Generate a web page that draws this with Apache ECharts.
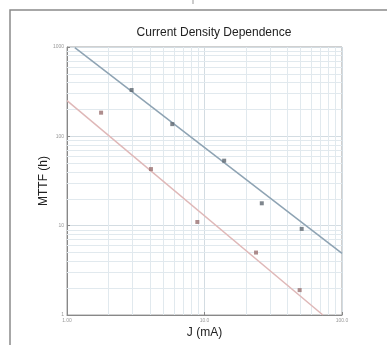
<!DOCTYPE html>
<html><head><meta charset="utf-8">
<script src="https://cdn.jsdelivr.net/npm/echarts@6/dist/echarts.min.js"></script>
<style>html,body{margin:0;padding:0;background:#fff}#c{width:387px;height:345px}</style>
</head><body><div id="c"></div>
<script>
const title = 'Current Density Dependence';
const xName = 'J (mA)';
const yName = 'MTTF (h)';
const xMajor = [1, 10, 100];
const xTickLabels = ['1.00', '10.0', '100.0'];
const yMajor = [1, 10, 100, 1000];
const yTickLabels = ['1', '10', '100', '1000'];
const xMinor = [2,3,4,5,6,7,8,9,20,30,40,50,60,70,80,90];
const yMinor = [2,3,4,5,6,7,8,9,20,30,40,50,60,70,80,90,200,300,400,500,600,700,800,900];
const blueJ = [2.95, 5.83, 13.9, 26.1, 50.9];
const blueT = [330, 137, 53.4, 17.8, 9.2];
const redJ = [1.77, 4.08, 8.87, 23.7, 49.2];
const redT = [184, 43, 11, 5.0, 1.9];
const blueFitJ = [1.14, 100];
const blueFitT = [985, 4.9];
const redFitJ = [1.0, 72.6];
const redFitT = [251, 1.0];

const zip = (a, b) => a.map((v, i) => [v, b[i]]);
const chart = echarts.init(document.getElementById('c'), null, {renderer: 'canvas'});
const gridLine = {color: '#e1e9ee', width: 1};
chart.setOption({
  animation: false,
  backgroundColor: '#fff',
  title: {text: title, left: 209, top: 22, textAlign: 'center',
    textStyle: {fontFamily: 'Liberation Sans, Arial', fontSize: 12, fontWeight: 'normal', color: '#222'}},
  graphic: [
    {type: 'polyline', shape: {points: [[10, 345], [10, 10], [387, 10]]}, style: {stroke: '#8a8a8a', lineWidth: 1.5, fill: null}},
    {type: 'line', shape: {x1: 193, y1: 0, x2: 193, y2: 4}, style: {stroke: '#999', lineWidth: 1}}
  ],
  grid: {left: 67, right: 45, top: 47, bottom: 30, show: true, borderColor: '#a0a0a0', borderWidth: 1},
  xAxis: {type: 'log', logBase: 10, min: 1, max: 100,
    name: xName, nameLocation: 'middle', nameGap: 12, nameMoveOverlap: false,
    nameTextStyle: {fontFamily: 'Liberation Sans, Arial', fontSize: 12, color: '#222'},
    axisLine: {show: true, lineStyle: {color: '#888'}},
    axisTick: {show: true, inside: true, length: 3, lineStyle: {color: '#888'}},
    axisLabel: {fontSize: 5, color: '#999', margin: 3,
      formatter: v => { const i = xMajor.indexOf(Math.round(v)); return i >= 0 ? xTickLabels[i] : ''; }},
    splitLine: {show: true, lineStyle: {color: '#d3dce2', width: 1}}},
  yAxis: {type: 'log', logBase: 10, min: 1, max: 1000,
    name: yName, nameLocation: 'middle', nameGap: 17, nameRotate: 90, nameMoveOverlap: false,
    nameTextStyle: {fontFamily: 'Liberation Sans, Arial', fontSize: 12, color: '#222'},
    axisLine: {show: true, lineStyle: {color: '#888'}},
    axisTick: {show: true, inside: true, length: 3, lineStyle: {color: '#888'}},
    axisLabel: {fontSize: 5, color: '#999', margin: 3,
      formatter: v => { const i = yMajor.indexOf(Math.round(v)); return i >= 0 ? yTickLabels[i] : ''; }},
    splitLine: {show: true, lineStyle: {color: '#d3dce2', width: 1}}},
  series: [
    {type: 'line', data: [], silent: true, z: 0, markLine: {silent: true, symbol: 'none', label: {show: false},
      lineStyle: {...gridLine, type: 'solid'}, animation: false,
      data: xMinor.map(v => ({xAxis: v})).concat(yMinor.map(v => ({yAxis: v})))}},
    {type: 'line', z: 10, data: zip(blueFitJ, blueFitT), symbol: 'none', lineStyle: {color: '#8ea3b3', width: 1.5}},
    {type: 'line', z: 10, data: zip(redFitJ, redFitT), symbol: 'none', lineStyle: {color: '#dfb8b8', width: 1.5}},
    {type: 'scatter', z: 11, data: zip(blueJ, blueT), symbol: 'rect', symbolSize: 4, itemStyle: {color: '#5f6870'}},
    {type: 'scatter', z: 11, data: zip(redJ, redT), symbol: 'rect', symbolSize: 4, itemStyle: {color: '#9a7070'}}
  ]
});
</script></body></html>
